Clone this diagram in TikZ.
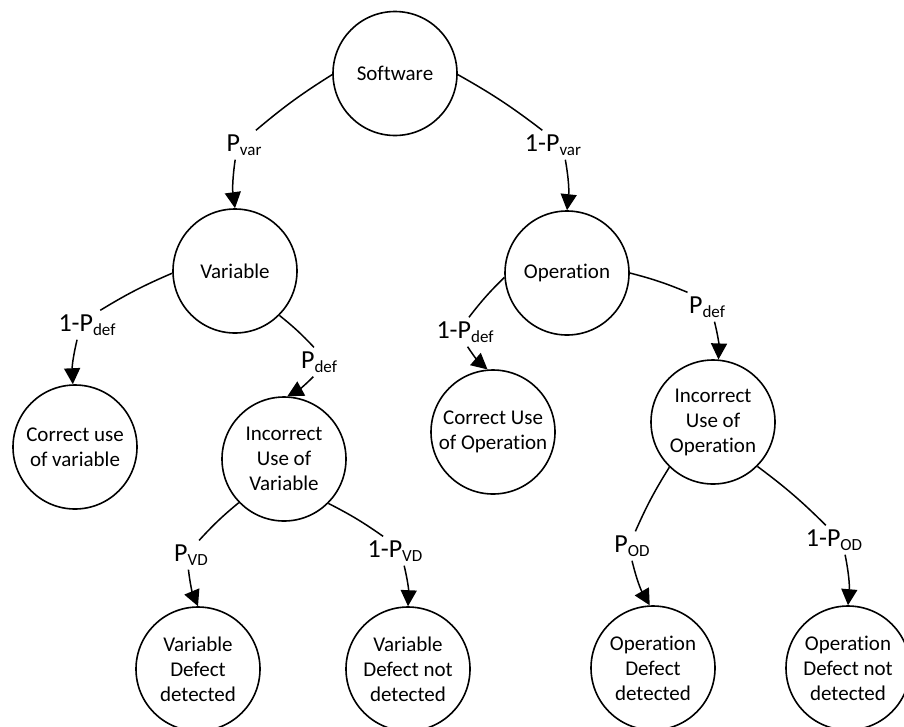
\documentclass[tikz,border=0pt]{standalone}
\usepackage{fontspec}
\setmainfont[Ligatures=NoCommon]{Carlito}
\usetikzlibrary{arrows.meta}
% lowered small text for the probability subscripts
\newcommand\probsub[1]{\raisebox{-0.16em}{\fontsize{17}{17}\selectfont #1}}
\begin{document}
\begin{tikzpicture}[x=1pt,y=-1pt,
  state/.style={circle, draw, line width=1.6pt, minimum size=124pt, inner sep=0pt,
                align=center, font=\fontsize{21}{25}\selectfont},
  prob/.style={inner sep=4pt, font=\fontsize{26}{26}\selectfont},
  branch/.style={line width=1.5pt},
  arr/.style={line width=1.5pt, -{Triangle[length=16pt,width=16pt]}}]
\useasboundingbox (0,0) rectangle (904,726);

% outcome states
\node[state] (sw)   at (395,73.5) {Software};
\node[state] (var)  at (235,271)  {Variable};
\node[state] (op)   at (567,273)  {Operation};
\node[state] (cvar) at (75,447)   {Correct use\\of variable};
\node[state] (ivar) at (284,459)  {Incorrect\\Use of\\Variable};
\node[state] (cop)  at (493,432)  {Correct Use\\of Operation};
\node[state] (iop)  at (713,422)  {Incorrect\\Use of\\Operation};
\node[state] (vd)   at (198,669)  {Variable\\Defect\\detected};
\node[state] (vnd)  at (408,669)  {Variable\\Defect not\\detected};
\node[state] (od)   at (653,668)  {Operation\\Defect\\detected};
\node[state] (ond)  at (848,668)  {Operation\\Defect not\\detected};

% branch probabilities
\node[prob] (pvar)   at (244,145) {P\probsub{var}};
\node[prob] (npvar)  at (553,145) {1-P\probsub{var}};
\node[prob] (npdefv) at (87,325)  {1-P\probsub{def}};
\node[prob] (pdefv)  at (319,362) {P\probsub{def}};
\node[prob] (npdefo) at (465,332) {1-P\probsub{def}};
\node[prob] (pdefo)  at (707,307) {P\probsub{def}};
\node[prob] (pvd)    at (191,555) {P\probsub{VD}};
\node[prob] (npvd)   at (395,551) {1-P\probsub{VD}};
\node[prob] (pod)    at (632,546) {P\probsub{OD}};
\node[prob] (npod)   at (834,540) {1-P\probsub{OD}};

% left-hand branches
\draw[branch] (sw.181)   to[bend right=4] (pvar.51);
\draw[arr]    (pvar.239) to[bend right=8] (var.90);
\draw[branch] (var.182)  to[bend right=4] (npdefv.48);
\draw[arr]    (npdefv.236) to[bend right=8] (cvar.92);
\draw[branch] (op.184)   to[bend right=4] (npdefo.75);
\draw[arr]    (npdefo.280) to[bend right=8] (cop.95);
\draw[branch] (ivar.224) to[bend right=4] (pvd.61);
\draw[arr]    (pvd.260)  to[bend right=8] (vd.90);
\draw[branch] (iop.226)  to[bend right=4] (pod.77);
\draw[arr]    (pod.270)  to[bend right=8] (od.93);

% right-hand branches
\draw[branch] (sw.359)   to[bend left=4] (npvar.126);
\draw[arr]    (npvar.310) to[bend left=8] (op.90);
\draw[branch] (var.315)  to[bend left=4] (pdefv.109);
\draw[arr]    (pdefv.249) to[bend left=8] (ivar.87);
\draw[branch] (op.0)     to[bend left=4] (pdefo.143);
\draw[arr]    (pdefo.297) to[bend left=8] (iop.85);
\draw[branch] (ivar.315) to[bend left=4] (npvd.129);
\draw[arr]    (npvd.302) to[bend left=8] (vnd.90);
\draw[branch] (iop.315)  to[bend left=4] (npod.119);
\draw[arr]    (npod.307) to[bend left=8] (ond.90);
\end{tikzpicture}
\end{document}
